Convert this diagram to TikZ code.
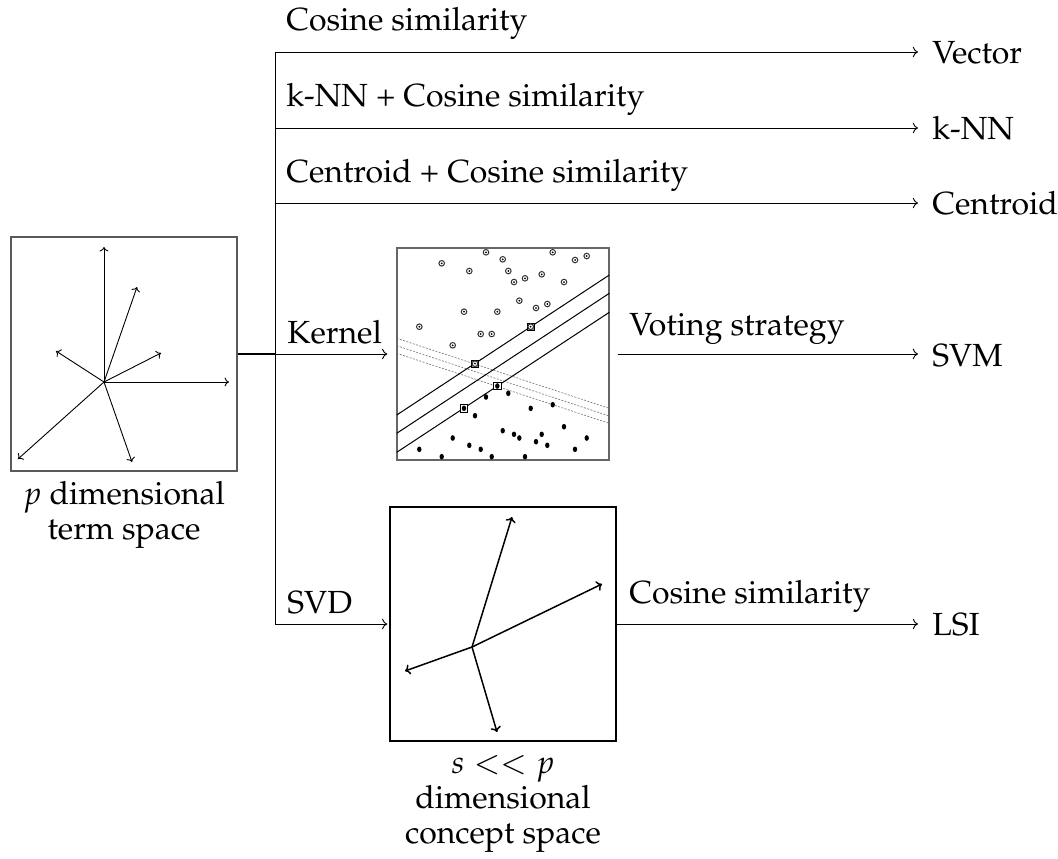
\documentclass[tikz,border=0pt]{standalone}
\usepackage[T1]{fontenc}
\usepackage{mathpazo}
\usetikzlibrary{arrows.meta}
\begin{document}
\begin{tikzpicture}[x=0.5pt,y=-0.5pt,
  every node/.style={font=\fontsize{16}{17.5}\selectfont},
  conn/.style={line width=0.45pt,-{Computer Modern Rightarrow[length=2.6pt,width=5.2pt]}},
  trunk/.style={line width=0.5pt},
  thickseg/.style={line width=1pt},
  lbl/.style={anchor=base west,inner sep=0pt},
  outlbl/.style={anchor=base west,inner xsep=7pt,inner ysep=0pt},
  captext/.style={anchor=base,align=center,inner sep=0pt},
  framebox/.style={draw,inner sep=0pt},
  vecA/.style={line width=0.45pt,-{Computer Modern Rightarrow[length=2.2pt,width=4.4pt]}},
  vecB/.style={line width=0.75pt,-{Computer Modern Rightarrow[length=2.6pt,width=5.2pt]}},
  opendot/.style={line width=0.5pt,draw=black!80},
  margin/.style={line width=0.5pt},
  dashline/.style={line width=0.3pt,black!55,dash pattern=on 1pt off 0.7pt},
]
\useasboundingbox (0,0) rectangle (1058,858);

% boxes
\node[framebox,draw=black!65,line width=0.6pt,minimum width=113pt,minimum height=117pt] (term) at (124,354) {};
\node[framebox,draw=black!60,line width=0.7pt,minimum width=106pt,minimum height=106pt] (svm) at (503,354) {};
\node[framebox,draw=black,line width=0.7pt,minimum width=113pt,minimum height=117pt] (svd) at (503,624) {};

% captions (anchor base = baseline of the last line)
\node[captext] (termcap) at (124,539) {$p$ dimensional\\term space};
\node[captext] (svdcap) at (503,843) {$s << p$\\dimensional\\concept space};

% junction coordinates
\coordinate (j) at (275,354);
\coordinate (t1) at (275,52);
\coordinate (t2) at (275,128);
\coordinate (t3) at (275,203);
\coordinate (bot) at (275,624);

% output labels
\node[outlbl] (vec) at (918,63) {Vector};
\node[outlbl] (knn) at (918,139) {k-NN};
\node[outlbl] (cen) at (918,214) {Centroid};
\node[outlbl] (svmout) at (918,366) {SVM};
\node[outlbl] (lsi) at (918,635) {LSI};

% edge labels
\node[lbl] (l1) at (286,30) {Cosine similarity};
\node[lbl] (l2) at (286,106) {k-NN + Cosine similarity};
\node[lbl] (l3) at (286,182) {Centroid + Cosine similarity};
\node[lbl] (l4) at (287,343) {Kernel};
\node[lbl] (l5) at (287,613) {SVD};
\node[lbl] (l6) at (629,335) {Voting strategy};
\node[lbl] (l7) at (629,603) {Cosine similarity};

% connectors
\draw[thickseg] (term.east |- j) -- (j);
\draw[trunk] (t1) -- (bot);
\draw[conn] (t1) -- (t1 -| vec.west);
\draw[conn] (t2) -- (t2 -| knn.west);
\draw[conn] (t3) -- (t3 -| cen.west);
\draw[conn,shorten >=4.5pt] (j) -- (j -| svm.west);
\draw[conn,shorten >=1pt] (bot) -- (bot -| svd.west);
\draw[conn,shorten <=4pt] (svm.east) -- (svm.east -| svmout.west);
\draw[conn] (svd.east) -- (svd.east -| lsi.west);

% term space vectors
\coordinate (c1) at (104,382);
\foreach \p in {(104,247),(137,287),(161,353),(229,382),(56,351),(18,459),(132,462)}
  \draw[vecA] (c1) -- \p;

% concept space vectors
\coordinate (c2) at (472,647);
\foreach \p in {(512,517),(602,584),(405,671),(497,732)}
  \draw[vecB] (c2) -- \p;

% SVM picture
\begin{scope}
\clip (svm.south west) rectangle (svm.north east);
\draw[dashline] (396.7,338.3) -- (609.3,408.3);
\draw[dashline] (396.7,345.7) -- (609.3,416);
\draw[dashline] (396.7,353.3) -- (609.3,423.3);
\draw[margin] (396.7,415) -- (609.3,275);
\draw[margin] (396.7,433.3) -- (609.3,293.3);
\draw[margin] (396.7,452.3) -- (609.3,312.3);
\end{scope}
% support vector squares
\foreach \p in {(530.7,326.7),(475,363.7)}
  \filldraw[fill=black!45,draw=black,line width=0.4pt] \p ++(-3.6,-3.6) rectangle ++(7.2,7.2);
\foreach \p in {(497.3,386),(464,408.3)}
  \filldraw[fill=white,draw=black,line width=0.4pt] \p ++(-3.6,-3.6) rectangle ++(7.2,7.2);
% open points
\foreach \p in {(486.0,252.3),(441.7,263.3),(502.7,259.3),(469.3,271),(508.3,271),(514,282),(525,278.3),(541.7,274.3),(552.7,252.3),(575,260),(586.7,256),(564,282),(519.3,300.7),(536,308),(547.3,304),(464,311.7),(497.3,311.7),(419.3,326.7),(480.7,334),(491.7,334),(452.7,345.3),(530.7,326.7),(475,363.7)}
  {\filldraw[opendot,fill=white] \p circle (1.4pt); \fill \p circle (0.5pt);}
% filled points
\foreach \p in {(497.3,386),(464,408.3),(486,397),(508.3,393.3),(475,415.7),(530.7,408.3),(552.7,404.7),(452.7,438),(469.3,445.3),(480.7,449.3),(502.7,430.7),(514,434.3),(519.3,438),(541.7,434.3),(536,441.7),(547.3,445.3),(564,426.7),(575,449.3),(586.7,438),(419.3,449.3),(441.7,456.7),(491.7,456.7),(525,456.7)}
  \fill \p ellipse (1.1pt and 1.4pt);
\end{tikzpicture}
\end{document}
